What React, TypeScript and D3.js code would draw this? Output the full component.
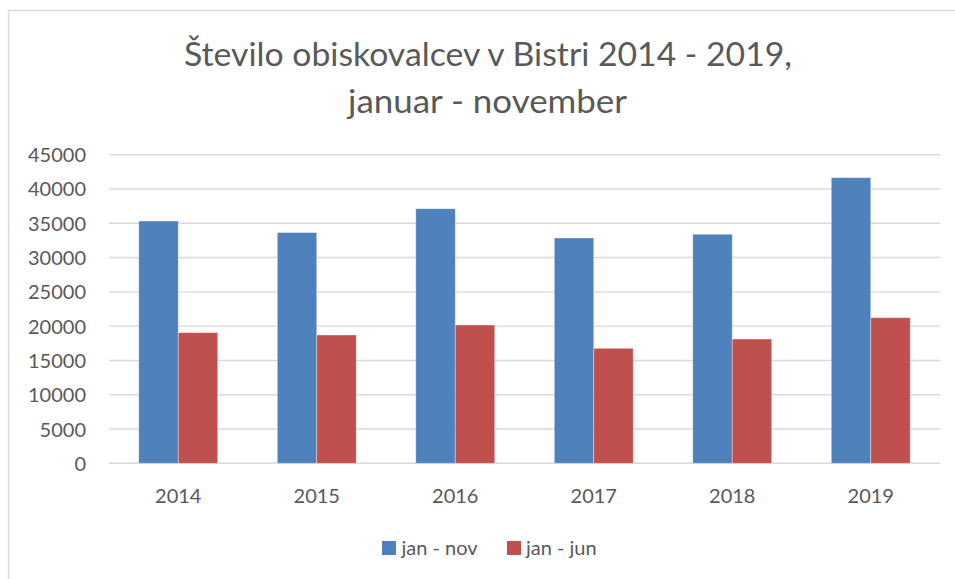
import React from "react";
import * as d3 from "d3";

const categories = ["2014", "2015", "2016", "2017", "2018", "2019"];
const seriesNames = ["jan - nov", "jan - jun"];
const janNov = [35330, 33650, 37120, 32860, 33400, 41650];
const janJun = [19050, 18710, 20170, 16770, 18120, 21230];
const yTicks = [0, 5000, 10000, 15000, 20000, 25000, 30000, 35000, 40000, 45000];
const titleLines = ["Število obiskovalcev v Bistri 2014 - 2019,", "januar - november"];
const colors = ["#4F81BD", "#C0504D"];

const W = 955;
const H = 579;
const FONT = "Lato, 'Open Sans', sans-serif";
const TXT = "#595959";

export default function App() {
  const x0 = d3.scaleBand<string>().domain(categories).range([109, 940]).paddingInner(0).paddingOuter(0);
  const y = d3.scaleLinear().domain([0, 45000]).range([463.3, 154.7]);
  const bw = x0.bandwidth();
  const barW = bw * 0.285;
  const x1 = d3
    .scaleBand<string>()
    .domain(seriesNames)
    .range([bw / 2 - barW, bw / 2 + barW])
    .padding(0);
  const data = [janNov, janJun];

  return (
    <div style={{ position: "absolute", left: 0, top: 0, width: W, height: H, background: "#fff" }}>
      <svg width={W} height={H} style={{ display: "block" }}>
        <rect x={0} y={0} width={W} height={H} fill="#fff" />
        {/* chart border (cropped on right/bottom) */}
        <path d={`M8.5,${H + 2} L8.5,10.5 L${W + 2},10.5`} fill="none" stroke="#D9D9D9" strokeWidth={1.5} />
        {/* title */}
        <text x={488} y={66} textAnchor="middle" fontFamily={FONT} fontSize={32} fill={TXT} textLength={608} lengthAdjust="spacingAndGlyphs">
          {titleLines[0]}
        </text>
        <text x={487.5} y={113} textAnchor="middle" fontFamily={FONT} fontSize={32} fill={TXT} textLength={279} lengthAdjust="spacingAndGlyphs">
          {titleLines[1]}
        </text>
        {/* gridlines */}
        {yTicks.map((t) => (
          <line key={t} x1={109} x2={940} y1={y(t)} y2={y(t)} stroke="#D9D9D9" strokeWidth={1.4} />
        ))}
        {/* y labels */}
        {yTicks.map((t) => (
          <text key={"l" + t} x={86} y={y(t) + 7.5} textAnchor="end" fontFamily={FONT} fontSize={20} fill={TXT}>
            {t}
          </text>
        ))}
        {/* bars */}
        {categories.map((c, i) => (
          <g key={c} transform={`translate(${x0(c)},0)`}>
            {seriesNames.map((s, si) => (
              <rect
                key={s}
                x={x1(s)}
                y={y(data[si][i])}
                width={x1.bandwidth()}
                height={y(0) - y(data[si][i])}
                fill={colors[si]}
                stroke="rgba(255,255,255,0.45)"
                strokeWidth={0.8}
              />
            ))}
          </g>
        ))}
        {/* x labels */}
        {categories.map((c) => (
          <text key={"x" + c} x={(x0(c) as number) + bw / 2} y={503} textAnchor="middle" fontFamily={FONT} fontSize={20} fill={TXT}>
            {c}
          </text>
        ))}
        {/* legend */}
        {[
          { sx: 382, tx: 401.5 },
          { sx: 507, tx: 526 },
        ].map((p, i) => (
          <g key={"lg" + i}>
            <rect x={p.sx} y={541} width={14} height={14} fill={colors[i]} />
            <text x={p.tx} y={554.5} fontFamily={FONT} fontSize={20} fill={TXT}>
              {seriesNames[i]}
            </text>
          </g>
        ))}
      </svg>
    </div>
  );
}
